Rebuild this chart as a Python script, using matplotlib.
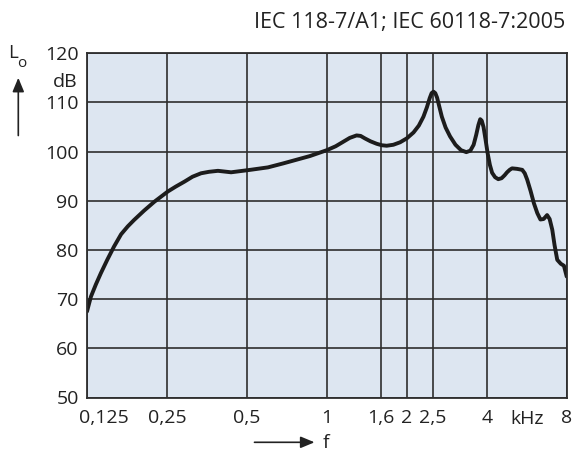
import matplotlib
matplotlib.use('Agg')
import matplotlib.pyplot as plt
from matplotlib.transforms import ScaledTranslation

plt.rcParams['font.family'] = ['Open Sans', 'DejaVu Sans']

# ---- data ----
freq_khz = [0.125, 0.1293, 0.135, 0.141, 0.149, 0.158, 0.168, 0.178, 0.188,
            0.205, 0.224, 0.252, 0.27, 0.291, 0.312,
            0.336, 0.36, 0.389, 0.436, 0.515, 0.6, 0.684, 0.863, 1.0, 1.08,
            1.152, 1.22, 1.294, 1.34,
            1.39, 1.46, 1.54, 1.61, 1.68, 1.78, 1.887, 2.0, 2.12, 2.22, 2.31, 2.38,
            2.44, 2.48, 2.52, 2.56, 2.60, 2.65, 2.71,
            2.8, 2.91, 3.05, 3.2, 3.35, 3.47, 3.57, 3.65, 3.72, 3.78, 3.83, 3.89,
            3.96, 4.03, 4.11, 4.19, 4.3, 4.42, 4.55, 4.67, 4.77,
            4.88, 4.98, 5.2, 5.44, 5.56, 5.68, 5.85, 6.02, 6.2, 6.37, 6.55, 6.75,
            6.9, 7.06, 7.2, 7.37, 7.6, 7.81, 8.0]
level_db = [67.5, 70.5, 73.0, 75.3, 78.0, 80.7, 83.2, 84.8, 86.1,
            88.0, 89.8, 91.9, 92.9, 93.9, 94.9,
            95.6, 95.9, 96.1, 95.8, 96.3, 96.8, 97.6, 99.1, 100.3, 101.1,
            102.0, 102.8, 103.3, 103.2,
            102.7, 102.1, 101.6, 101.3, 101.2, 101.4, 101.9, 102.7, 103.9, 105.3, 107.1, 109.0,
            110.9, 111.9, 112.2, 111.9, 111.0, 109.2, 107.1,
            104.9, 103.1, 101.4, 100.3, 99.9, 100.2, 101.4, 103.4, 105.4, 106.6, 106.3, 105.0,
            102.4, 99.7, 97.3, 95.7, 94.8, 94.4, 94.6, 95.2, 95.8,
            96.3, 96.6, 96.5, 96.3, 95.6, 94.3, 92.0, 89.5, 87.5, 86.2, 86.3, 87.1,
            86.3, 84.1, 81.0, 78.0, 77.2, 76.8, 74.6]

x_ticks = [0.125, 0.25, 0.5, 1, 1.6, 2, 2.5, 4, 8]
x_tick_labels = ['0,125', '0,25', '0,5', '1', '1,6', '2', '2,5', '4', '8']
y_ticks = [50, 60, 70, 80, 90, 100, 110, 120]
title_text = 'IEC 118-7/A1; IEC 60118-7:2005'
unit_x = 'kHz'
unit_y = 'dB'

W, H = 574, 451
fig = plt.figure(figsize=(W / 100, H / 100), dpi=100)
L, R, T, B = 87, 566.7, 53.3, 397.5
ax = fig.add_axes([L / W, 1 - B / H, (R - L) / W, (B - T) / H])

ax.set_xscale('log', base=2)
ax.set_xlim(0.125, 8)
ax.set_ylim(50, 120)
ax.set_facecolor('#dde6f1')
ax.minorticks_off()
ax.set_xticks(x_ticks, x_tick_labels)
ax.set_yticks(y_ticks)
ax.grid(True, color='#2e2e2e', lw=1.2)
ax.set_axisbelow(True)
for s in ax.spines.values():
    s.set_color('#2e2e2e')
    s.set_linewidth(1.3)
ax.tick_params(axis='both', length=0, labelsize=14, colors='#222222')
ax.tick_params(axis='x', pad=8)
ax.tick_params(axis='y', pad=6)

ax.plot(freq_khz, level_db, color='#1c1c1c', lw=2.8,
        solid_joinstyle='round', solid_capstyle='round')

# shift the first x label to the right
lab0 = ax.get_xticklabels()[0]
lab0.set_transform(lab0.get_transform() + ScaledTranslation(17 / 100, 0, fig.dpi_scale_trans))

def fx(px):
    return px / W

def fy(py):
    return 1 - py / H

c = '#222222'
fig.text(fx(565), fy(28.3), title_text, ha='right', va='baseline', fontsize=15.5, color=c)
fig.text(fx(526.7), fy(424.3), unit_x, ha='center', va='baseline', fontsize=14, color=c)
fig.text(fx(77.5), fy(87), unit_y, ha='right', va='baseline', fontsize=14, color=c)
fig.text(fx(8.5), fy(58.5), 'L', ha='left', va='baseline', fontsize=13.5, color=c)
fig.text(fx(17.5), fy(67), 'o', ha='left', va='baseline', fontsize=11, color=c)
fig.text(fx(323), fy(448.3), 'f', ha='left', va='baseline', fontsize=14, color=c)

# arrows
fig.add_artist(matplotlib.patches.FancyArrowPatch(
    (fx(18.3), fy(138.3)), (fx(18.3), fy(75)), transform=fig.transFigure,
    arrowstyle='-|>,head_length=0.6,head_width=0.25', mutation_scale=14,
    color=c, lw=1.2))
fig.add_artist(matplotlib.patches.FancyArrowPatch(
    (fx(251.7), fy(442.3)), (fx(317.3), fy(442.3)), transform=fig.transFigure,
    arrowstyle='-|>,head_length=0.6,head_width=0.25', mutation_scale=14,
    color=c, lw=1.2))

fig.savefig('out.png', dpi=100)
